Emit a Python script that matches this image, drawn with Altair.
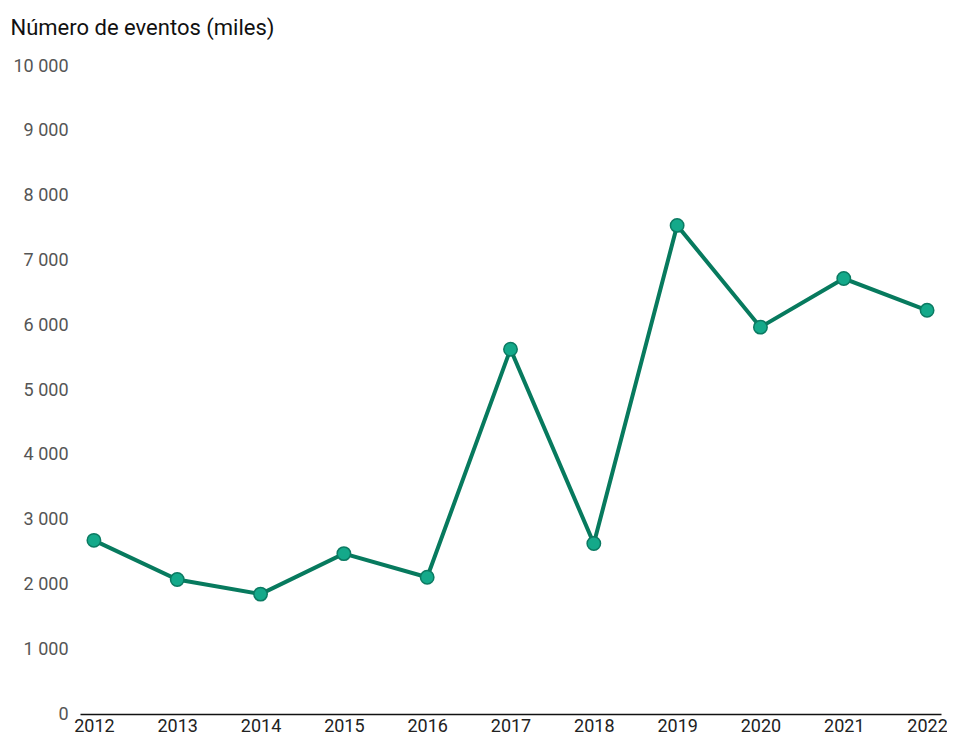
import altair as alt
import pandas as pd

years = ["2012", "2013", "2014", "2015", "2016", "2017", "2018", "2019", "2020", "2021", "2022"]
events = [2680, 2075, 1850, 2475, 2110, 5630, 2630, 7540, 5970, 6720, 6230]
y_ticks = [0, 1000, 2000, 3000, 4000, 5000, 6000, 7000, 8000, 9000, 10000]

df = pd.DataFrame({"year": years, "events": events})

x = alt.X("year:O", sort=years, scale=alt.Scale(type="point", padding=0.167),
          axis=alt.Axis(title=None, labelAngle=0, ticks=False, domainColor="#111111",
                        domainWidth=1.5, labelFontSize=18, labelColor="#222222",
                        labelPadding=3, labelFont="Roboto"))
y = alt.Y("events:Q", scale=alt.Scale(domain=[0, 10000], nice=False),
          axis=alt.Axis(values=y_ticks, grid=False, domain=False, ticks=False,
                        labelFontSize=18, labelColor="#555555", labelPadding=12,
                        labelFont="Roboto",
                        labelExpr="replace(format(datum.value, ','), regexp(',', 'g'), ' ')",
                        title="Número de eventos (miles)", titleAngle=0, titleAlign="left",
                        titleBaseline="alphabetic", titleX=-70, titleY=-32,
                        titleFont="Roboto", titleFontSize=22, titleFontWeight="normal",
                        titleColor="#111111"))

base = alt.Chart(df)
line = base.mark_line(color="#077a5e", strokeWidth=4).encode(x=x, y=y)
pts = base.mark_point(filled=True, size=180, fill="#14a98a", stroke="#0b7a62",
                      strokeWidth=1.5, opacity=1).encode(x=x, y=y)

chart = alt.layer(line, pts).properties(
    width=861, height=648,
    autosize=alt.AutoSizeParams(type="none"),
    padding={"left": 72, "top": 58, "right": 6, "bottom": 20},
).configure(font="Roboto").configure_view(stroke=None, strokeWidth=0)

chart.save("out.html", embed_options={"renderer": "svg", "actions": False})
